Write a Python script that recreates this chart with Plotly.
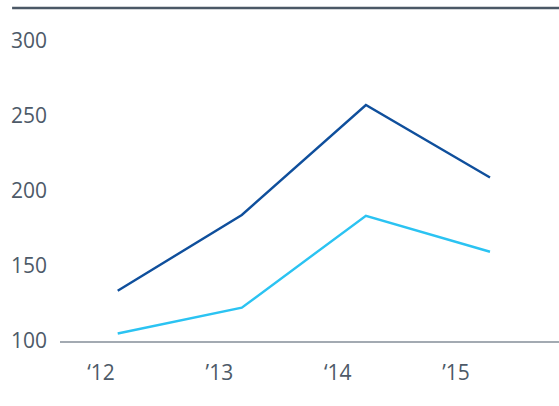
import plotly.graph_objects as go

years = ["‘12", "’13", "‘14", "’15"]
series_dark = [133.5, 184.0, 257.3, 209.0]
series_light = [105.0, 122.2, 183.5, 159.5]
y_ticks = [100, 150, 200, 250, 300]

x_idx = list(range(len(years)))

fig = go.Figure()
fig.add_trace(go.Scatter(x=x_idx, y=series_dark, mode="lines",
                         line=dict(color="#0f4f9c", width=2.4), hoverinfo="skip"))
fig.add_trace(go.Scatter(x=x_idx, y=series_light, mode="lines",
                         line=dict(color="#2bc3f2", width=2.4), hoverinfo="skip"))
# carrier trace for the year labels axis
fig.add_trace(go.Scatter(x=years, y=[None] * len(years), mode="none",
                         xaxis="x2", hoverinfo="skip"))

txt = "#4d5a68"
fig.update_layout(
    width=559, height=406,
    margin=dict(l=60, r=0, t=8, b=65),
    paper_bgcolor="white", plot_bgcolor="white",
    showlegend=False,
    font=dict(family="Open Sans", size=21, color=txt),
    xaxis=dict(range=[-0.465, 3.556], showticklabels=False, showgrid=False,
               zeroline=False, showline=True, linecolor="#a3aab2", linewidth=1.5,
               ticks=""),
    xaxis2=dict(overlaying="x", side="bottom", type="category",
                range=[-0.347, 3.871], showgrid=False, zeroline=False,
                showline=False, ticks="", ticklabelstandoff=17,
                tickfont=dict(family="Open Sans", size=21, color=txt)),
    yaxis=dict(range=[100, 322], tickvals=y_ticks, showgrid=False,
               zeroline=False, showline=False, ticks="", ticklabelstandoff=12,
               tickfont=dict(family="Open Sans", size=21, color=txt)),
    shapes=[dict(type="line", xref="paper", yref="paper",
                 x0=-0.096, x1=1.0, y0=1.0, y1=1.0,
                 line=dict(color="#4b5866", width=2.5))],
)

fig.write_html("out.html", config={"displayModeBar": False},
               post_script="document.body.style.margin='0';")
